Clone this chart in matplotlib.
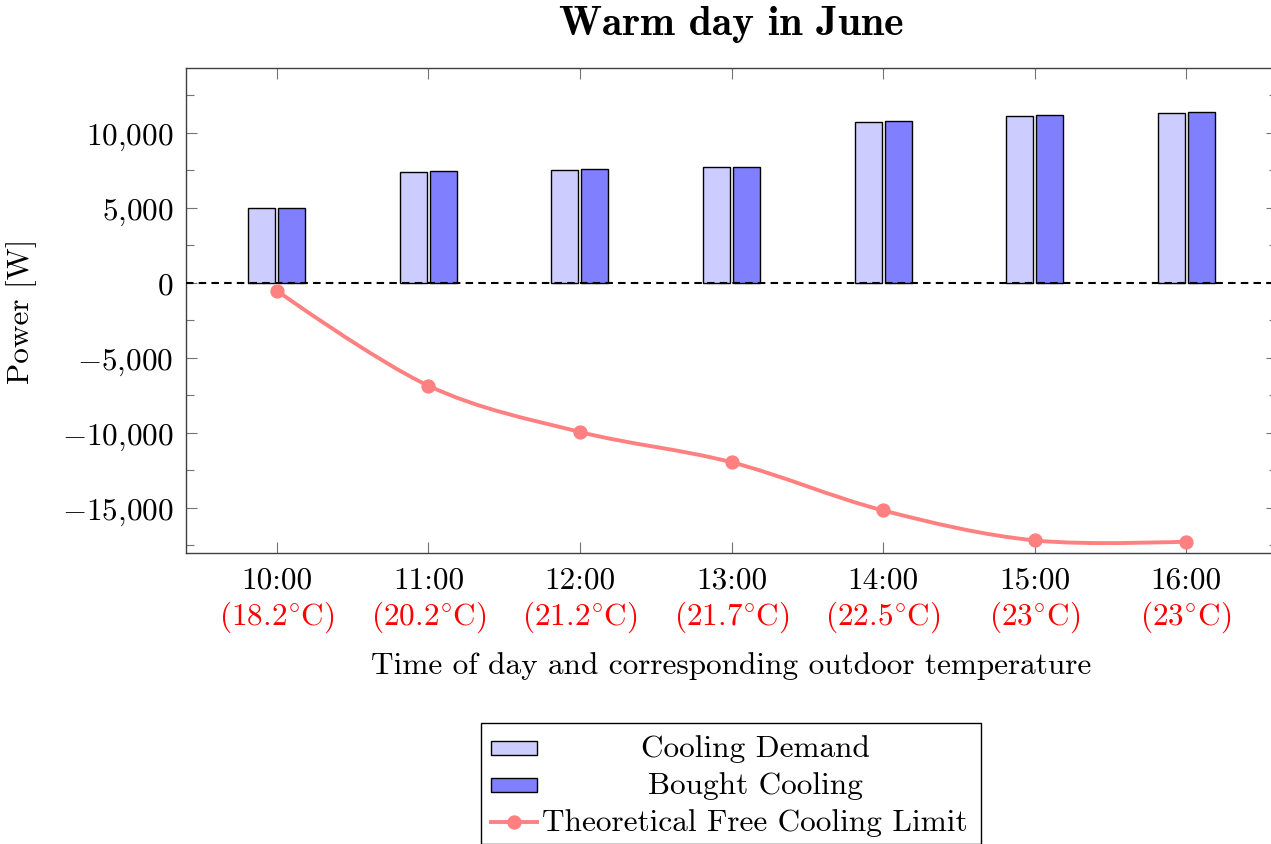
import numpy as np
import matplotlib
matplotlib.use("Agg")
import matplotlib.pyplot as plt
from matplotlib.path import Path
from matplotlib.patches import PathPatch, Rectangle
from matplotlib.lines import Line2D
from matplotlib.ticker import MultipleLocator, FuncFormatter

plt.rcParams['font.family'] = 'cmr10'
plt.rcParams['mathtext.fontset'] = 'cm'
plt.rcParams['axes.unicode_minus'] = False

# hourly readings for the day
times = ['10:00', '11:00', '12:00', '13:00', '14:00', '15:00', '16:00']
temps = ['18.2', '20.2', '21.2', '21.7', '22.5', '23', '23']
demand = [5000, 7420, 7530, 7700, 10750, 11130, 11350]
bought = [4980, 7440, 7580, 7750, 10790, 11170, 11400]
free_limit = [-520, -6850, -9930, -11950, -15160, -17160, -17240]

FS = 22.5
W, H = 1271, 845
fig = plt.figure(figsize=(W / 100, H / 100), dpi=100)
ax = fig.add_axes([186 / W, 1 - 554 / H, (1277 - 186) / W, (554 - 69) / H])

x = np.arange(len(times))
bw = 0.178
off = 0.099
ax.bar(x - off, demand, bw, color='#ccccff', edgecolor='black', linewidth=1.0, zorder=2)
ax.bar(x + off, bought, bw, color='#8080ff', edgecolor='black', linewidth=1.0, zorder=2)

ax.axhline(0, color='black', lw=1.5, ls=(0, (3.6, 2.5)), zorder=3)

# smooth curve through the points (bezier segments with tension)
pts = np.column_stack([x, free_limit]).astype(float)
t = 0.17
verts = [pts[0]]
codes = [Path.MOVETO]
n = len(pts)
for i in range(n - 1):
    p0 = pts[i - 1] if i > 0 else pts[i]
    p1, p2 = pts[i], pts[i + 1]
    p3 = pts[i + 2] if i + 2 < n else pts[i + 1]
    c1 = p1 + t * (p2 - p0) if i > 0 else p1
    c2 = p2 - t * (p3 - p1) if i + 2 < n else p2
    verts += [c1, c2, p2]
    codes += [Path.CURVE4] * 3
ax.add_patch(PathPatch(Path(verts, codes), fill=False, edgecolor='#ff8080',
                       lw=2.8, zorder=4, capstyle='round', joinstyle='round'))
ax.plot(x, free_limit, 'o', color='#ff8080', ms=9.3, zorder=5)

ax.set_xlim(-0.6, 6.6)
ax.set_ylim(-18000, 14333)
ax.set_xticks(x)
ax.set_xticklabels(times, fontsize=FS)
ax.yaxis.set_major_locator(MultipleLocator(5000))
ax.yaxis.set_minor_locator(MultipleLocator(2500))


def fmt(v, pos):
    s = f'{abs(int(round(v))):,}'.replace(',', '{,}')
    return f'$-{s}$' if v < 0 else f'${s}$'


ax.yaxis.set_major_formatter(FuncFormatter(fmt))
ax.tick_params(axis='both', which='both', direction='in', top=True, right=True,
               color='0.45', width=0.8)
ax.tick_params(axis='both', which='major', length=8, labelsize=FS)
ax.tick_params(axis='x', pad=9)
ax.tick_params(axis='y', pad=9)
ax.tick_params(axis='y', which='minor', length=6)
for sp in ax.spines.values():
    sp.set_color('0.25')
    sp.set_linewidth(1.0)

for i, tc in enumerate(temps):
    ax.annotate(f'({tc}$^{{\\circ}}$C)', xy=(i, 0), xycoords=('data', 'axes fraction'),
                xytext=(0, -71), textcoords='offset pixels', ha='center', va='baseline',
                color='red', fontsize=FS)

fig.text(731 / W, 1 - 35 / H, 'Warm day in June', family='cmb10', fontsize=30,
         ha='center', va='baseline')
fig.text(731 / W, 1 - 674 / H, 'Time of day and corresponding outdoor temperature',
         fontsize=FS, ha='center', va='baseline')
fig.text(22 / W, 1 - 311 / H, 'Power [W]', fontsize=FS, rotation=90,
         ha='center', va='center')

# legend box drawn by hand so the labels sit centred
ft = fig.transFigure
fig.patches.append(Rectangle((481 / W, 0), 500 / W, (H - 724) / H, transform=ft,
                             fill=False, edgecolor='black', lw=1.0))
fig.patches.append(Rectangle((491 / W, 1 - 756 / H), 46 / W, 14 / H, transform=ft,
                             facecolor='#ccccff', edgecolor='black', lw=1.0))
fig.patches.append(Rectangle((491 / W, 1 - 793 / H), 46 / W, 14 / H, transform=ft,
                             facecolor='#8080ff', edgecolor='black', lw=1.0))
fig.lines.append(Line2D([491 / W, 537 / W], [1 - 823 / H] * 2, transform=ft,
                        color='#ff8080', lw=2.8))
fig.lines.append(Line2D([514 / W], [1 - 823 / H], transform=ft, marker='o',
                        color='#ff8080', ms=9.3))
for label, yb in zip(['Cooling Demand', 'Bought Cooling', 'Theoretical Free Cooling Limit'],
                     [757, 794, 831]):
    fig.text(755 / W, 1 - yb / H, label, fontsize=FS, ha='center', va='baseline')

fig.savefig('out.png', dpi=100)
